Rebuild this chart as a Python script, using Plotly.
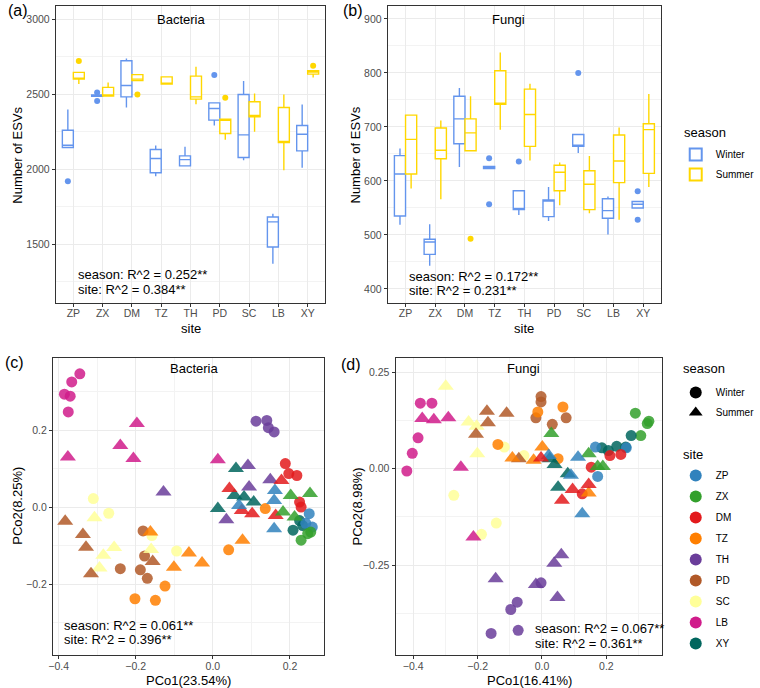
import plotly.graph_objects as go

# ---------------- data ----------------
sites = ["ZP", "ZX", "DM", "TZ", "TH", "PD", "SC", "LB", "XY"]
site_colors = ["#3182BD", "#33A02C", "#E31A1C", "#FF7F00", "#6A3D9A",
               "#B15928", "#FFFF99", "#D01C8B", "#01665E"]
seasons = ["Winter", "Summer"]
season_colors = ["#6495ED", "#FFD700"]

# Bacteria ESV box statistics (per site)
bac_win_q1 = [2145, 2486, 2482, 1976, 2022, 2327, 2078, 1482, 2122]
bac_win_med = [2160, 2490, 2558, 2071, 2064, 2404, 2229, 1649, 2233]
bac_win_q3 = [2260, 2494, 2722, 2131, 2089, 2442, 2498, 1682, 2291]
bac_win_lo = [2142, 2486, 2411, 1953, 2022, 2291, 2060, 1371, 2009]
bac_win_hi = [2398, 2494, 2738, 2158, 2149, 2442, 2587, 1704, 2431]
bac_win_out_site = ["ZP", "ZX", "ZX", "PD"]
bac_win_out_val = [1920, 2511, 2455, 2627]

bac_sum_q1 = [2600, 2488, 2590, 2567, 2467, 2238, 2349, 2178, 2633]
bac_sum_med = [2606, 2492, 2600, 2572, 2482, 2327, 2358, 2182, 2647]
bac_sum_q3 = [2645, 2545, 2630, 2615, 2620, 2333, 2449, 2411, 2656]
bac_sum_lo = [2567, 2488, 2588, 2565, 2433, 2196, 2249, 1993, 2611]
bac_sum_hi = [2645, 2577, 2632, 2615, 2682, 2333, 2504, 2498, 2656]
bac_sum_out_site = ["ZP", "DM", "PD", "XY"]
bac_sum_out_val = [2720, 2498, 2476, 2689]

# Fungi ESV box statistics (per site)
fun_win_q1 = [535, 464, 669, 623, 547, 534, 664, 531, 550]
fun_win_med = [613, 487, 715, 625, 549, 563, 666, 545, 557]
fun_win_q3 = [647, 492, 757, 627, 582, 565, 686, 567, 562]
fun_win_lo = [519, 443, 626, 623, 537, 526, 652, 501, 550]
fun_win_hi = [660, 520, 772, 627, 582, 589, 686, 571, 562]
fun_win_out_site = ["TZ", "TZ", "TH", "SC", "XY", "XY"]
fun_win_out_val = [642, 557, 636, 800, 581, 528]

fun_sum_q1 = [613, 641, 656, 742, 664, 582, 547, 597, 614]
fun_sum_med = [677, 657, 689, 743, 723, 616, 594, 637, 695]
fun_sum_q3 = [722, 698, 715, 804, 770, 629, 619, 685, 706]
fun_sum_lo = [586, 566, 656, 695, 638, 555, 540, 528, 589]
fun_sum_hi = [722, 712, 757, 838, 780, 634, 646, 699, 761]
fun_sum_out_site = ["DM"]
fun_sum_out_val = [493]

# Bacteria PCoA
bac_win_site = ["LB"] * 5 + ["TH"] * 4 + ["SC"] * 4 + ["PD"] * 5 + ["TZ"] * 5 + ["DM"] * 5 + ["XY"] * 3 + ["ZP"] * 3 + ["ZX"] * 3
bac_win_x = [-0.345, -0.366, -0.385, -0.370, -0.375,
             0.112, 0.140, 0.144, 0.159,
             -0.310, -0.270, -0.094, -0.158,
             -0.181, -0.240, -0.188, -0.170, -0.177,
             -0.124, -0.202, -0.149, 0.041, 0.136,
             0.188, 0.197, 0.218, 0.225, 0.229,
             0.225, 0.233, 0.208,
             0.250, 0.258, 0.241,
             0.246, 0.229, 0.254]
bac_win_y = [0.346, 0.325, 0.293, 0.288, 0.247,
             0.223, 0.225, 0.206, 0.195,
             0.022, -0.016, -0.114, -0.074,
             -0.062, -0.160, -0.163, -0.185, -0.127,
             -0.205, -0.238, -0.242, -0.111, -0.004,
             0.113, 0.087, 0.082, 0.013, 0.000,
             -0.035, -0.048, -0.060,
             -0.017, -0.052, -0.042,
             -0.069, -0.086, -0.065]

bac_sum_site = ["LB"] * 5 + ["TH"] * 5 + ["SC"] * 5 + ["PD"] * 5 + ["TZ"] * 5 + ["XY"] * 5 + ["DM"] * 5 + ["ZP"] * 4 + ["ZX"] * 4
bac_sum_x = [-0.376, -0.197, -0.240, -0.206, 0.013,
             -0.128, 0.091, 0.149, 0.094, 0.035,
             -0.307, -0.256, -0.284, -0.294, -0.160,
             -0.383, -0.337, -0.329, -0.316, -0.156,
             -0.162, -0.062, -0.101, -0.028, 0.077,
             0.060, 0.056, 0.081, 0.106, 0.013,
             0.178, 0.043, 0.075, 0.163, 0.102,
             0.068, 0.159, 0.159, 0.161,
             0.202, 0.252, 0.182, 0.212]
bac_sum_y = [0.130, 0.217, 0.160, 0.126, 0.123,
             0.039, 0.108, 0.071, 0.052, -0.033,
             -0.028, -0.105, -0.125, -0.158, -0.110,
             -0.037, -0.071, -0.104, -0.173, -0.141,
             -0.065, -0.119, -0.156, -0.145, -0.086,
             0.100, 0.030, 0.026, 0.013, -0.004,
             0.069, 0.048, -0.009, -0.022, -0.017,
             0.004, 0.017, -0.056, 0.043,
             0.030, 0.035, -0.013, -0.026]

# Fungi PCoA
fun_win_site = ["LB"] * 5 + ["SC"] * 5 + ["PD"] * 5 + ["TZ"] * 4 + ["ZX"] * 4 + ["XY"] * 5 + ["ZP"] * 3 + ["DM"] * 4 + ["TH"] * 5
fun_win_x = [-0.378, -0.342, -0.385, -0.403, -0.420,
             -0.274, -0.188, -0.142, -0.117, -0.056,
             -0.003, -0.003, -0.019, 0.032, 0.075,
             -0.013, 0.065, -0.137, 0.050,
             0.290, 0.332, 0.327, 0.307,
             0.277, 0.260, 0.232, 0.206, 0.186,
             0.166, 0.173, 0.262,
             0.245, 0.211, 0.153, 0.125,
             -0.003, -0.077, -0.097, -0.158, -0.074]
fun_win_y = [0.170, 0.170, 0.080, 0.040, -0.006,
             -0.069, -0.170, -0.141, 0.056, 0.034,
             0.187, 0.173, 0.132, 0.115, 0.132,
             0.147, 0.160, 0.063, 0.026,
             0.144, 0.123, 0.117, 0.086,
             0.086, 0.056, 0.058, 0.047, 0.054,
             0.056, -0.020, 0.054,
             0.037, 0.034, 0.004, -0.065,
             -0.296, -0.346, -0.365, -0.427, -0.419]

fun_sum_site = ["LB"] * 5 + ["SC"] * 4 + ["PD"] * 5 + ["TZ"] * 4 + ["ZX"] * 4 + ["XY"] * 4 + ["ZP"] * 4 + ["DM"] * 4 + ["TH"] * 5
fun_sum_x = [-0.372, -0.336, -0.291, -0.252, -0.213,
             -0.299, -0.228, -0.203, -0.201,
             -0.171, -0.110, -0.168, -0.205, -0.072,
             0.001, -0.092, -0.026, 0.145,
             0.029, 0.145, 0.173, 0.189,
             0.039, 0.080, 0.050, 0.024,
             0.112, 0.125, 0.090, 0.021,
             0.062, 0.095, 0.145, -0.003,
             -0.144, 0.038, 0.060, -0.019, 0.048]
fun_sum_y = [0.130, 0.127, 0.132, 0.004, -0.177,
             0.214, 0.121, 0.110, 0.039,
             0.149, 0.144, 0.119, 0.089, 0.026,
             0.056, 0.028, 0.022, -0.063,
             0.091, 0.039, 0.006, 0.006,
             0.011, -0.013, -0.048, 0.026,
             0.030, -0.117, -0.017, 0.034,
             -0.082, -0.054, -0.041, 0.028,
             -0.285, -0.245, -0.223, -0.300, -0.334]

stats_bac = ["season: R^2 = 0.252**", "site: R^2 = 0.384**"]
stats_fun = ["season: R^2 = 0.172**", "site: R^2 = 0.231**"]
stats_bac_pcoa = ["season: R^2 = 0.061**", "site: R^2 = 0.396**"]
stats_fun_pcoa = ["season: R^2 = 0.067**", "site: R^2 = 0.361**"]

# ---------------- figure ----------------
W, H = 760, 688
FONT = "Liberation Sans, Arial, Helvetica, sans-serif"
color_of = dict(zip(sites, site_colors))
idx_of = {s: i + 1 for i, s in enumerate(sites)}
DODGE = 0.1875
BOXW = 0.375

fig = go.Figure()


def add_boxes(xa, ya, stats, outs, show):
    for k, season in enumerate(seasons):
        off = -DODGE if k == 0 else DODGE
        q1, med, q3, lo, hi = stats[k]
        fig.add_trace(go.Box(
            x=[i + 1 + off for i in range(len(sites))],
            q1=q1, median=med, q3=q3, lowerfence=lo, upperfence=hi,
            width=BOXW, whiskerwidth=0, boxpoints=False,
            line=dict(color=season_colors[k], width=1.4),
            fillcolor="white", name=season, legendgroup=season,
            showlegend=show, legend="legend", xaxis=xa, yaxis=ya,
            hoverinfo="skip"))
        osite, oval = outs[k]
        fig.add_trace(go.Scatter(
            x=[idx_of[s] + off for s in osite], y=oval, mode="markers",
            marker=dict(color=season_colors[k], size=6),
            showlegend=False, xaxis=xa, yaxis=ya, hoverinfo="skip"))


add_boxes("x", "y",
          [(bac_win_q1, bac_win_med, bac_win_q3, bac_win_lo, bac_win_hi),
           (bac_sum_q1, bac_sum_med, bac_sum_q3, bac_sum_lo, bac_sum_hi)],
          [(bac_win_out_site, bac_win_out_val), (bac_sum_out_site, bac_sum_out_val)],
          True)
add_boxes("x2", "y2",
          [(fun_win_q1, fun_win_med, fun_win_q3, fun_win_lo, fun_win_hi),
           (fun_sum_q1, fun_sum_med, fun_sum_q3, fun_sum_lo, fun_sum_hi)],
          [(fun_win_out_site, fun_win_out_val), (fun_sum_out_site, fun_sum_out_val)],
          False)


def add_pcoa(xa, ya, site_list, xs, ys, symbol, size):
    fig.add_trace(go.Scatter(
        x=xs, y=ys, mode="markers",
        marker=dict(color=[color_of[s] for s in site_list], size=size,
                    symbol=symbol, opacity=0.85, line=dict(width=0)),
        showlegend=False, xaxis=xa, yaxis=ya, hoverinfo="skip"))


add_pcoa("x3", "y3", bac_win_site, bac_win_x, bac_win_y, "circle", 11)
add_pcoa("x3", "y3", bac_sum_site, bac_sum_x, bac_sum_y, "triangle-up", 14)
add_pcoa("x4", "y4", fun_win_site, fun_win_x, fun_win_y, "circle", 11)
add_pcoa("x4", "y4", fun_sum_site, fun_sum_x, fun_sum_y, "triangle-up", 14)

# legend entries for shapes and sites
for season, sym in zip(seasons, ["circle", "triangle-up"]):
    fig.add_trace(go.Scatter(x=[None], y=[None], mode="markers", name=season,
                             legendgroup="shape_" + season,
                             marker=dict(color="black", size=12, symbol=sym),
                             legend="legend2", xaxis="x3", yaxis="y3"))
for s, c in zip(sites, site_colors):
    fig.add_trace(go.Scatter(x=[None], y=[None], mode="markers", name=s,
                             legendgroup="site_" + s,
                             marker=dict(color=c, size=12, symbol="circle"),
                             legend="legend3", xaxis="x3", yaxis="y3"))


def px_x(p):
    return p / W


def px_y(p):
    return 1 - p / H


base_ax = dict(showline=True, mirror=True, linecolor="#333333", linewidth=1,
               ticks="outside", ticklen=3, tickcolor="#333333",
               tickfont=dict(size=10.5, color="#4D4D4D", family=FONT),
               showgrid=True, gridcolor="#EBEBEB", gridwidth=1, zeroline=False)


def minor(d):
    return dict(showgrid=True, gridcolor="#F3F3F3", gridwidth=0.6, dtick=d)


def leg(x, y, gap):
    return dict(x=px_x(x), y=px_y(y), xanchor="left", yanchor="top",
                font=dict(size=10), bgcolor="rgba(0,0,0,0)",
                itemsizing="constant", tracegroupgap=gap, traceorder="grouped")


top = [px_y(303), px_y(6)]
bot = [px_y(655), px_y(358)]
fig.update_layout(
    xaxis=dict(base_ax, domain=[px_x(52), px_x(328)], range=[0.4, 9.6],
               tickvals=[i + 1 for i in range(len(sites))], ticktext=sites,
               ticklabelstandoff=-3, anchor="y"),
    yaxis=dict(base_ax, domain=top, range=[1109, 3087], dtick=500, tick0=0,
               minor=minor(250), anchor="x"),
    xaxis2=dict(base_ax, domain=[px_x(392), px_x(672)], range=[0.4, 9.6],
                tickvals=[i + 1 for i in range(len(sites))], ticktext=sites,
                ticklabelstandoff=-3, anchor="y2"),
    yaxis2=dict(base_ax, domain=top, range=[374, 924], dtick=100, tick0=0,
                minor=minor(50), anchor="x2"),
    xaxis3=dict(base_ax, domain=[px_x(49), px_x(327)], range=[-0.415, 0.289],
                dtick=0.2, tick0=0, tickformat=".1f", minor=minor(0.1),
                ticklabelstandoff=-2, anchor="y3"),
    yaxis3=dict(base_ax, domain=bot, range=[-0.384, 0.387], dtick=0.2, tick0=0,
                tickformat=".1f", minor=minor(0.1), anchor="x3"),
    xaxis4=dict(base_ax, domain=[px_x(400), px_x(673)], range=[-0.455, 0.373],
                dtick=0.2, tick0=0, tickformat=".1f", minor=minor(0.1),
                ticklabelstandoff=-2, anchor="y4"),
    yaxis4=dict(base_ax, domain=bot, range=[-0.483, 0.287], dtick=0.25, tick0=0,
                tickformat=".2f", minor=minor(0.125), anchor="x4"),
    boxmode="overlay",
    width=W, height=H, margin=dict(l=0, r=0, t=0, b=0),
    paper_bgcolor="white", plot_bgcolor="white",
    font=dict(family=FONT, color="black"),
    legend=leg(687, 140, 1),
    legend2=leg(687, 378, 1),
    legend3=leg(687, 461, 2),
)

anns = []


def ann(text, x, y, size=13, xanchor="center", angle=0, color="black"):
    anns.append(dict(text=text, x=px_x(x), y=px_y(y), xref="paper", yref="paper",
                     showarrow=False, xanchor=xanchor, yanchor="middle",
                     textangle=angle, font=dict(size=size, color=color, family=FONT)))


# panel tags
ann("(a)", 13, 10, size=16)
ann("(b)", 356, 10, size=16)
ann("(c)", 10, 362, size=16)
ann("(d)", 354, 364, size=16)
# panel titles
ann("Bacteria", 180, 19)
ann("Fungi", 516, 19)
ann("Bacteria", 194, 369)
ann("Fungi", 531, 369)
# axis titles
ann("Number of ESVs", 12, 155, angle=-90)
ann("Number of ESVs", 359, 155, angle=-90)
ann("site", 190, 328)
ann("site", 532, 328)
ann("PCo2(8.25%)", 12, 506, angle=-90)
ann("PCo2(8.98%)", 361, 506, angle=-90)
ann("PCo1(23.54%)", 188, 680)
ann("PCo1(16.41%)", 537, 680)
# legend titles
ann("season", 693, 132, xanchor="left")
ann("season", 692, 369, xanchor="left")
ann("site", 692, 455, xanchor="left")
# statistics
ann(stats_bac[0], 73, 275, xanchor="left")
ann(stats_bac[1], 73, 289, xanchor="left")
ann(stats_fun[0], 412, 276, xanchor="left")
ann(stats_fun[1], 412, 290, xanchor="left")
ann(stats_bac_pcoa[0], 58, 625, xanchor="left")
ann(stats_bac_pcoa[1], 58, 639, xanchor="left")
ann(stats_fun_pcoa[0], 541, 628, xanchor="left")
ann(stats_fun_pcoa[1], 541, 643, xanchor="left")

fig.update_layout(annotations=anns)
fig.write_html("out.html", config={"displayModeBar": False},
               post_script="document.body.style.margin='0';document.body.style.overflow='hidden';")
